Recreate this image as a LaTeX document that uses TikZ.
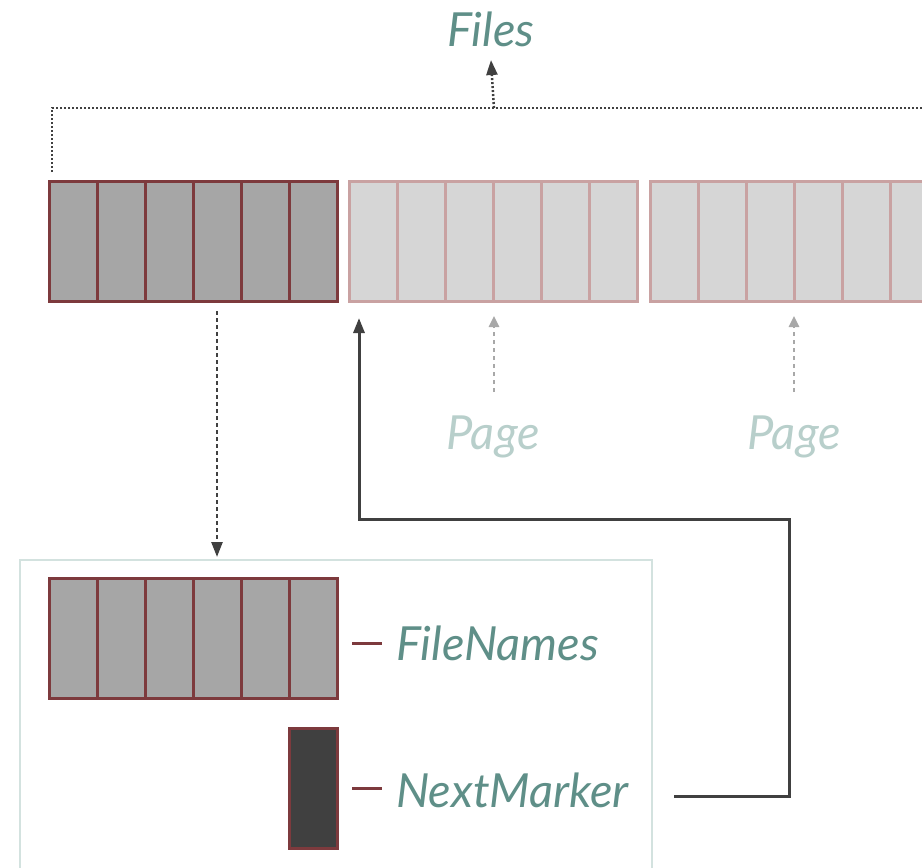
\documentclass[tikz,border=0pt]{standalone}
\usepackage{fontspec}
\setmainfont{Lato}
\usetikzlibrary{arrows.meta,calc}
\definecolor{lblc}{HTML}{5F8F88}
\definecolor{pagec}{HTML}{B8CFCB}
\definecolor{darkfill}{HTML}{A6A6A6}
\definecolor{lightfill}{HTML}{D6D6D6}
\definecolor{darkbrd}{HTML}{7D3A3D}
\definecolor{lightbrd}{HTML}{C9A2A2}
\definecolor{boxbrd}{HTML}{D3E2DF}
\definecolor{arrc}{HTML}{404040}
\definecolor{grayarr}{HTML}{A8A8A8}
\tikzset{
  blk/.style={rectangle, inner sep=0pt, outer sep=0pt, anchor=north west,
    minimum width=288pt, minimum height=120pt, line width=3pt},
  darkblk/.style={blk, draw=darkbrd, fill=darkfill},
  lightblk/.style={blk, draw=lightbrd, fill=lightfill},
  lbl/.style={text=lblc, font=\fontsize{47}{52}\selectfont\itshape, inner sep=0pt},
  pagelbl/.style={lbl, text=pagec},
  tip/.style={-{Triangle[length=15pt,width=11pt]}},
  dotline/.style={arrc, line width=2.5pt, dash pattern=on 2pt off 2pt},
  dashline/.style={arrc, line width=2.5pt, dash pattern=on 4pt off 3pt},
  pagearrow/.style={grayarr, line width=2.5pt, dash pattern=on 4pt off 4pt,
    -{Triangle[length=11pt,width=10pt]}},
  mainarrow/.style={arrc, line width=3pt, tip},
  tick/.style={darkbrd, line width=3pt}
}
% six cells per block
\newcommand{\cellrule}[2]{%
  \foreach \i in {1,...,5}
    \draw[#2, line width=3pt] ($(#1.north west)+(48*\i,0)$) -- ($(#1.south west)+(48*\i,0)$);}
\begin{document}
\begin{tikzpicture}[x=1pt,y=-1pt]
\useasboundingbox (0,0) rectangle (922,868);

% file list pages
\node[darkblk] (p1) at (49,181) {};
\cellrule{p1}{darkbrd}
\node[lightblk] (p2) at (349,181) {};
\cellrule{p2}{lightbrd}
\node[lightblk] (p3) at (650,181) {};
\cellrule{p3}{lightbrd}

% title
\node[lbl] (files) at (491,29) {Files};

% result collection line
\coordinate (fl) at (52,172);
\coordinate (fc) at (494,108);
\coordinate (fr) at (930,108);
\draw[dotline] (fl) -- (fl |- fc) -- (fr);
\draw[dotline, tip] (fc) -- (files.south |- 0,60);

% page markers
\node[pagelbl] (pg2) at (493,437) {Page};
\node[pagelbl] (pg3) at (794,437) {Page};
\draw[pagearrow] (494,392) -- (494,316);
\draw[pagearrow] (794,392) -- (794,316);

% response body
\draw[boxbrd, line width=2.5pt] (20,880) -- (20,560) -- (652,560) -- (652,880);
\node[darkblk] (names) at (49,578) {};
\cellrule{names}{darkbrd}
\node[blk, draw=darkbrd, fill=arrc, minimum width=48pt] (marker) at (289,728) {};

\draw[tick] (352,643) -- (382,643);
\node[lbl, anchor=west] (fn) at (396,643) {FileNames};
\draw[tick] (352,788) -- (382,788);
\node[lbl, anchor=west] (nm) at (396,790) {NextMarker};

% first page expands into the response
\draw[dashline, tip] (p1.south west) ++(168,10) -- (217,557);

% marker points at the next page
\coordinate (m0) at (674,796);
\coordinate (m1) at (789,796);
\coordinate (m2) at (789,519);
\coordinate (m3) at (359,519);
\draw[mainarrow] (m0) -- (m1) -- (m2) -- (m3) -- (359,318);
\end{tikzpicture}
\end{document}
